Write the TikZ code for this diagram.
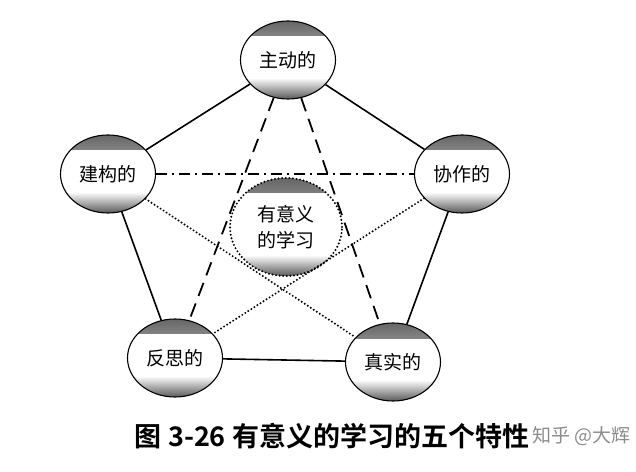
\documentclass[tikz,border=0pt]{standalone}
\usepackage{fontspec}
\usepackage{tikz}
\usetikzlibrary{positioning,shapes.geometric}
\newfontfamily\cjk{Noto Sans CJK SC}
\newfontfamily\cjkb{Noto Sans CJK SC Bold}
\tikzset{
  rims/.style={path picture={
      \shade[top color=black!60, bottom color=white]
        (path picture bounding box.north west) rectangle ([yshift=-#1]path picture bounding box.north east);
      \shade[bottom color=black!65, top color=white]
        (path picture bounding box.south west) rectangle ([yshift=1.4*#1]path picture bounding box.south east);}},
  ball/.style={ellipse, draw, line width=1.1pt, fill=white, rims=15pt,
               minimum width=95pt, minimum height=78pt, inner sep=0pt,
               font=\cjk\fontsize{19}{21}\selectfont},
  core/.style={ellipse, draw, line width=2.2pt, dash pattern=on 0pt off 3.6pt, line cap=round,
               fill=white, rims=15pt, minimum width=112pt, minimum height=98pt,
               align=center, inner sep=0pt, font=\cjk\fontsize{19}{26}\selectfont},
  link/.style={line width=1.6pt},
  linkdash/.style={line width=1.8pt, dash pattern=on 14pt off 8pt},
  linkdashdot/.style={line width=1.6pt, dash pattern=on 11pt off 5pt on 2pt off 5pt},
  linkdot/.style={line width=2.2pt, dash pattern=on 0pt off 3.6pt, line cap=round}
}
\begin{document}
\begin{tikzpicture}[x=1pt,y=1pt]
\useasboundingbox (0,0) rectangle (636,471);
\node[ball] (zd) at (288,411) {主动的};
\node[ball] (jg) at (108,297) {建构的};
\node[ball] (xz) at (462,297) {协作的};
\node[ball] (fs) at (175,113) {反思的};
\node[ball] (zs) at (393,109) {真实的};
\node[core] (yy) at (286,244) {有意义\\的学习};
\draw[link] (zd)--(jg);\draw[link] (zd)--(xz);\draw[link] (jg)--(fs);\draw[link] (xz)--(zs);\draw[link] (fs)--(zs);
\draw[linkdash] (zd)--(fs);\draw[linkdash] (zd)--(zs);
\draw[linkdashdot] (jg)--(xz);
\draw[linkdot] (jg)--(zs);\draw[linkdot] (xz)--(fs);
\node[font=\cjkb\fontsize{27}{30}\selectfont] (cap) at (332,35) {图 3-26\ 有意义的学习的五个特性};
\node[anchor=east, text=black!45, font=\cjk\fontsize{19}{21}\selectfont] (wm) at (634,35) {知乎 @大辉};
\end{tikzpicture}
\end{document}
